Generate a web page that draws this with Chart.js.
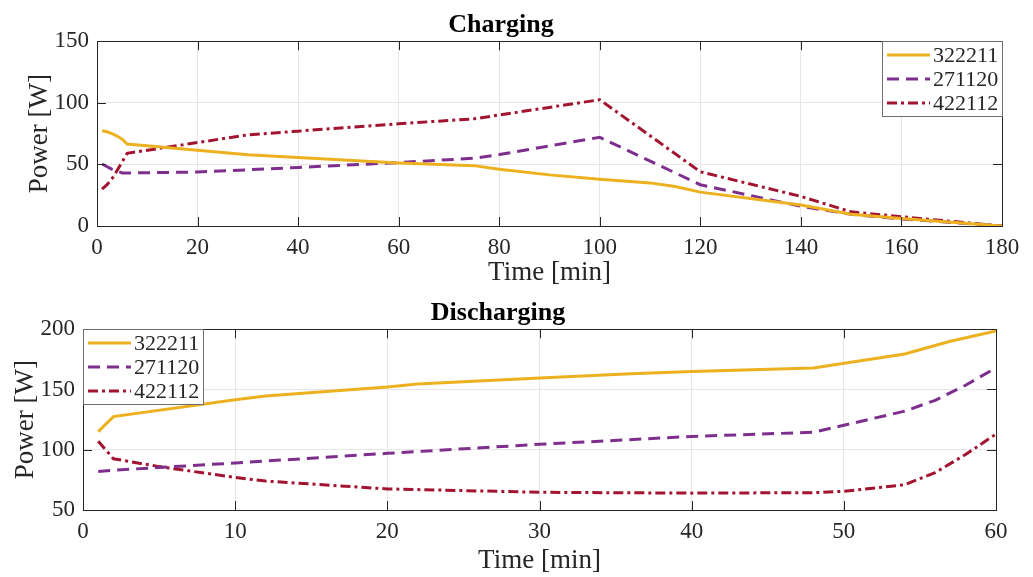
<!DOCTYPE html>
<html>
<head>
<meta charset="utf-8">
<script src="https://cdn.jsdelivr.net/npm/chart.js@4.4.0/dist/chart.umd.min.js"></script>
<style>
  html, body { margin: 0; padding: 0; background: #fff; }
  canvas { position: absolute; left: 0; }
  #chargeChart { top: 0; }
  #dischargeChart { top: 290px; }
</style>
</head>
<body>
<canvas id="chargeChart" width="1033" height="290"></canvas>
<canvas id="dischargeChart" width="1033" height="287"></canvas>
<script>
// ---- data ----
const seriesNames = ['322211', '271120', '422112'];

// Charging (min, W)
const chgTime1 = [1, 2, 3, 4, 5, 6, 30, 60, 75, 80, 90, 100, 110, 115, 120, 140, 150, 160, 180];
const chgPow1  = [77.3, 76.5, 75, 73, 70.5, 66.5, 57.8, 51.2, 49, 46, 41.5, 38, 35, 32, 27.5, 17, 9.5, 6, 0];
const chgTime2 = [1, 3, 5, 20, 40, 60, 75, 80, 100, 120, 140, 150, 160, 180];
const chgPow2  = [50.3, 46, 43, 43.8, 47.5, 51.5, 55, 58, 72, 33.5, 16, 9.5, 5.7, 0];
const chgTime3 = [1, 2, 3, 4, 5, 6, 30, 40, 60, 75, 100, 120, 140, 150, 160, 180];
const chgPow3  = [30, 33.5, 38.5, 45, 52, 59, 74, 77, 83, 87, 102.5, 44, 24, 11.5, 7.5, 0];

// Discharging (min, W)
const disTime1 = [1, 2, 10, 12, 20, 22, 30, 36, 40, 48, 54, 57, 60];
const disPow1  = [115, 127.5, 141.5, 144.5, 152, 154.5, 159.5, 163, 165, 167.8, 179.5, 190, 198.6];
const disTime2 = [1, 2, 10, 20, 30, 40, 48, 54, 56, 58, 60];
const disPow2  = [82, 83, 89, 97, 104.5, 111, 114.5, 132, 141, 153.5, 168];
const disTime3 = [1, 2, 5, 10, 12, 20, 30, 40, 48, 50, 54, 56, 58, 60];
const disPow3  = [107, 92.5, 86, 77, 74, 67.5, 64.7, 64, 64.4, 65.5, 71, 81, 96, 113];

const FONT = '"Liberation Serif", "DejaVu Serif", serif';
const INK = '#262626';
const lineColors = ['#EDB120', '#7E2F8E', '#A2142F'];
const lineDashes = [[], [12, 7], [10, 4, 3, 4]];

const toPoints = (xs, ys) => xs.map((x, i) => ({ x: x, y: ys[i] }));

function makeDatasets(pairs) {
  return pairs.map((p, i) => ({
    label: seriesNames[i],
    data: toPoints(p[0], p[1]),
    borderColor: lineColors[i],
    borderDash: lineDashes[i],
    borderWidth: 3,
    pointRadius: 0,
    tension: 0,
    fill: false
  }));
}

// MATLAB-like box with inward ticks
const boxTicks = {
  id: 'boxTicks',
  afterDatasetsDraw(chart) {
    const { ctx, chartArea: a, scales } = chart;
    ctx.save();
    ctx.strokeStyle = INK;
    ctx.lineWidth = 1;
    ctx.beginPath();
    scales.x.ticks.forEach(t => {
      const px = Math.round(scales.x.getPixelForValue(t.value)) + 0.5;
      ctx.moveTo(px, a.bottom); ctx.lineTo(px, a.bottom - 9);
      ctx.moveTo(px, a.top); ctx.lineTo(px, a.top + 9);
    });
    scales.y.ticks.forEach(t => {
      const py = Math.round(scales.y.getPixelForValue(t.value)) + 0.5;
      ctx.moveTo(a.left, py); ctx.lineTo(a.left + 9, py);
      ctx.moveTo(a.right, py); ctx.lineTo(a.right - 9, py);
    });
    ctx.stroke();
    ctx.strokeRect(Math.round(a.left) + 0.5, Math.round(a.top) + 0.5,
                   Math.round(a.right - a.left), Math.round(a.bottom - a.top));
    ctx.restore();
  }
};

// legend box tucked into a corner of the plot area
const boxLegend = {
  id: 'boxLegend',
  afterDraw(chart, args, opts) {
    const { ctx, chartArea: a } = chart;
    const w = 120, h = 75;
    const x0 = opts.corner === 'right' ? Math.round(a.right) - w : Math.round(a.left);
    const y0 = Math.round(a.top);
    ctx.save();
    ctx.fillStyle = '#fff';
    ctx.fillRect(x0, y0, w, h);
    ctx.strokeStyle = '#6e6e6e';
    ctx.lineWidth = 1;
    ctx.strokeRect(x0 + 0.5, y0 + 0.5, w, h);
    ctx.font = '22px ' + FONT;
    ctx.textBaseline = 'middle';
    chart.data.datasets.forEach((ds, i) => {
      const y = y0 + 14 + i * 24;
      ctx.strokeStyle = ds.borderColor;
      ctx.lineWidth = ds.borderWidth;
      ctx.setLineDash(ds.borderDash);
      ctx.beginPath();
      ctx.moveTo(x0 + 5, y);
      ctx.lineTo(x0 + 48, y);
      ctx.stroke();
      ctx.setLineDash([]);
      ctx.fillStyle = INK;
      ctx.fillText(ds.label, x0 + 51, y + 1);
    });
    ctx.restore();
  }
};

function makeConfig(o) {
  return {
    type: 'line',
    data: { datasets: o.datasets },
    plugins: [boxTicks, boxLegend],
    options: {
      responsive: false,
      animation: false,
      layout: { padding: { left: 0, right: o.padRight, top: 0, bottom: 0 } },
      plugins: {
        legend: { display: false },
        tooltip: { enabled: false },
        title: {
          display: true,
          text: o.title,
          color: '#000',
          font: { family: FONT, size: 26, weight: 'bold' },
          padding: { top: o.titleTop, bottom: 0 }
        },
        boxLegend: { corner: o.legendCorner }
      },
      scales: {
        x: {
          type: 'linear',
          min: 0, max: o.xMax,
          ticks: { stepSize: o.xStep, color: INK, padding: 8, font: { family: FONT, size: 23 } },
          grid: { color: '#e6e6e6', drawTicks: false },
          border: { display: false },
          title: { display: true, text: 'Time [min]', color: INK,
                   font: { family: FONT, size: 27 }, padding: { top: 0, bottom: o.xTitlePad } },
          afterFit: s => { s.height = o.xHeight; }
        },
        y: {
          min: o.yMin, max: o.yMax,
          ticks: { stepSize: 50, color: INK, padding: 8, font: { family: FONT, size: 23 } },
          grid: { color: '#e6e6e6', drawTicks: false },
          border: { display: false },
          title: { display: true, text: 'Power [W]', color: INK,
                   font: { family: FONT, size: 27 }, padding: { top: o.yTitlePad, bottom: 0 } },
          afterFit: s => { s.width = o.yWidth; }
        }
      }
    }
  };
}

new Chart(document.getElementById('chargeChart'), makeConfig({
  title: 'Charging',
  titleTop: 10,
  datasets: makeDatasets([[chgTime1, chgPow1], [chgTime2, chgPow2], [chgTime3, chgPow3]]),
  xMax: 180, xStep: 20, yMin: 0, yMax: 150,
  xHeight: 64, xTitlePad: 1,
  yWidth: 97, yTitlePad: 24,
  padRight: 31,
  legendCorner: 'right'
}));

new Chart(document.getElementById('dischargeChart'), makeConfig({
  title: 'Discharging',
  titleTop: 8,
  datasets: makeDatasets([[disTime1, disPow1], [disTime2, disPow2], [disTime3, disPow3]]),
  xMax: 60, xStep: 10, yMin: 50, yMax: 200,
  xHeight: 67, xTitlePad: 0,
  yWidth: 83, yTitlePad: 10,
  padRight: 37,
  legendCorner: 'left'
}));
</script>
</body>
</html>
